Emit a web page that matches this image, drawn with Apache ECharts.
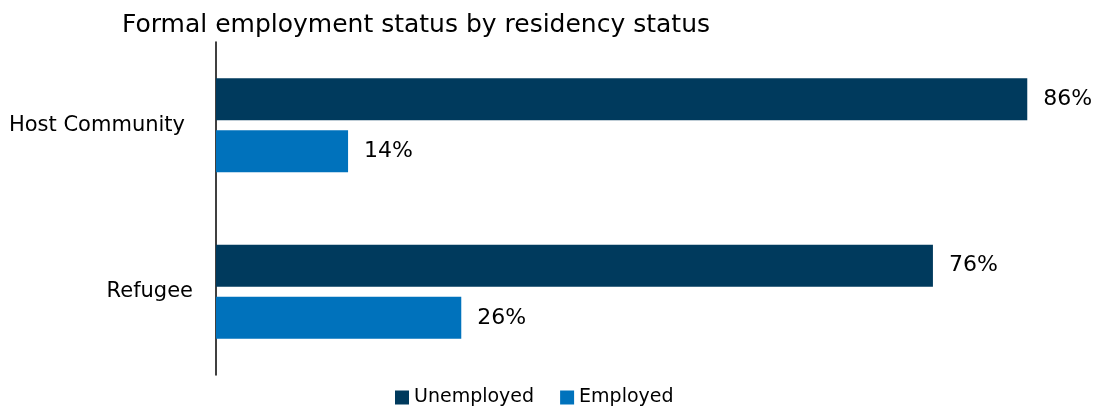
<!DOCTYPE html>
<html>
<head>
<meta charset="utf-8">
<script src="https://cdn.jsdelivr.net/npm/echarts@6/dist/echarts.min.js"></script>
<style>
  html, body { margin: 0; padding: 0; background: #fff; }
  #chart { width: 1097px; height: 412px; }
</style>
</head>
<body>
<div id="chart"></div>
<script>
// Share of respondents in formal employment, by residency status
const categories = ['Host Community', 'Refugee'];
const unemployed = [86, 76];
const employed = [14, 26];
const seriesNames = ['Unemployed', 'Employed'];

const FONT = 'DejaVu Sans';
const chart = echarts.init(document.getElementById('chart'), null, { renderer: 'canvas' });

const labelStyle = {
  show: true,
  position: 'right',
  distance: 16,
  formatter: p => p.value + '%',
  color: '#000',
  fontFamily: FONT,
  fontSize: 22
};

// the first category label sits a little further from the axis line
const categoryData = categories.map((c, i) => ({
  value: c,
  textStyle: { padding: i === 0 ? [6, 8, 0, 0] : [8, 0, 0, 0] }
}));

chart.setOption({
  animation: false,
  title: {
    text: 'Formal employment status by residency status',
    left: 117,
    top: 8,
    textStyle: { fontFamily: FONT, fontSize: 25, fontWeight: 'normal', color: '#000' }
  },
  legend: {
    data: seriesNames,
    bottom: 0,
    left: 390,
    itemWidth: 14,
    itemHeight: 14,
    itemGap: 26,
    icon: 'rect',
    textStyle: { fontFamily: FONT, fontSize: 19, color: '#000' }
  },
  grid: { left: 216, right: 32, top: 42, bottom: 37 },
  xAxis: {
    type: 'value',
    min: 0,
    max: 90,
    show: false
  },
  yAxis: {
    type: 'category',
    data: categoryData,
    inverse: true,
    axisLine: { show: true, lineStyle: { color: '#000', width: 1.5 } },
    axisTick: { show: false },
    axisLabel: { fontFamily: FONT, fontSize: 21, color: '#000', margin: 23 }
  },
  series: [
    {
      name: seriesNames[0],
      type: 'bar',
      data: unemployed,
      barWidth: 42,
      barGap: '24%',
      itemStyle: { color: '#003A5D' },
      label: labelStyle
    },
    {
      name: seriesNames[1],
      type: 'bar',
      data: employed,
      barWidth: 42,
      itemStyle: { color: '#0072BC' },
      label: labelStyle
    }
  ]
});
</script>
</body>
</html>
